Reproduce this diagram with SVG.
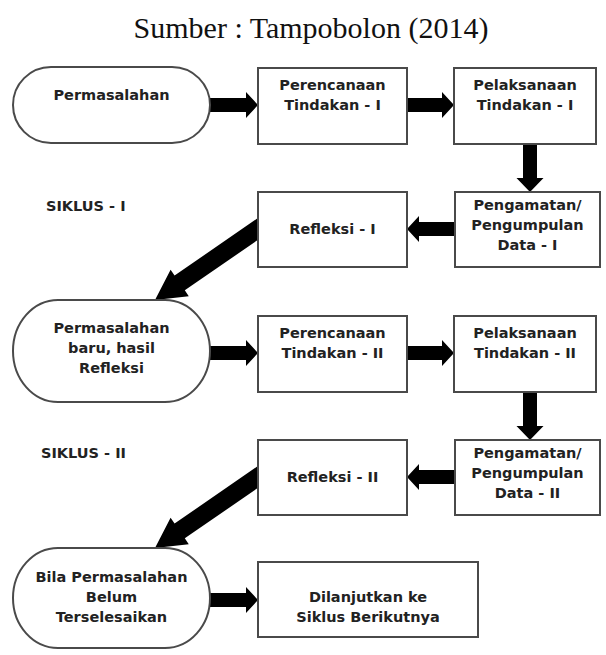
<svg xmlns="http://www.w3.org/2000/svg" width="606" height="655" viewBox="0 0 606 655">
<style>
.bg{fill:#ffffff}
.box{fill:#ffffff;stroke:#4a4a4a;stroke-width:2}
.t{font-family:"DejaVu Sans","Verdana",sans-serif;font-weight:bold;font-size:14.5px;fill:#222;text-anchor:middle}
.s{font-family:"DejaVu Sans","Verdana",sans-serif;font-weight:bold;font-size:14.5px;fill:#222}
.title{font-family:"Liberation Serif","Times New Roman",serif;font-size:30px;fill:#111;text-anchor:middle}
.arr{fill:#000}
</style>
<rect class="bg" x="0" y="0" width="606" height="655"/>
<text class="title" x="311" y="38">Sumber : Tampobolon (2014)</text>
<text class="s" x="46" y="211">SIKLUS - I</text>
<text class="s" x="41" y="458">SIKLUS - II</text>

<g id="connectors">
  <polygon class="arr" points="207,98 246,98 246,92 258,105 246,118 246,112 207,112"/>
  <polygon class="arr" points="406,98 442,98 442,92 454,105 442,118 442,112 406,112"/>
  <polygon class="arr" points="523,143 523,178 516.5,178 530,192 543.5,178 537,178 537,143"/>
  <polygon class="arr" points="456,222 419,222 419,216 407,229 419,242 419,236 456,236"/>
  <polygon class="arr" points="262.89,214.59 174.58,275.55 170.60,269.79 155,300 188.78,296.14 184.80,290.37 273.11,229.41"/>
  <polygon class="arr" points="207,346 246,346 246,340 258,353 246,366 246,360 207,360"/>
  <polygon class="arr" points="406,346 442,346 442,340 454,353 442,366 442,360 406,360"/>
  <polygon class="arr" points="523,391 523,426 516.5,426 530,440 543.5,426 537,426 537,391"/>
  <polygon class="arr" points="456,470 419,470 419,464 407,477 419,490 419,484 456,484"/>
  <polygon class="arr" transform="translate(0,248)" points="262.89,214.59 174.58,275.55 170.60,269.79 155,300 188.78,296.14 184.80,290.37 273.11,229.41"/>
  <polygon class="arr" points="207,593 246,593 246,587 258,600 246,613 246,607 207,607"/>
</g>

<g id="n-permasalahan">
  <rect class="box" x="13" y="67" width="197" height="76" rx="38" ry="38"/>
  <text class="t" x="111.5" y="100">Permasalahan</text>
</g>
<g id="n-perencanaan1">
  <rect class="box" x="258" y="68" width="149" height="76"/>
  <text class="t" x="332.5" y="90">Perencanaan</text>
  <text class="t" x="332.5" y="110">Tindakan - I</text>
</g>
<g id="n-pelaksanaan1">
  <rect class="box" x="454" y="68" width="142" height="76"/>
  <text class="t" x="525" y="90">Pelaksanaan</text>
  <text class="t" x="525" y="110">Tindakan - I</text>
</g>
<g id="n-pengamatan1">
  <rect class="box" x="455" y="192" width="145" height="75"/>
  <text class="t" x="527.5" y="210">Pengamatan/</text>
  <text class="t" x="527.5" y="230">Pengumpulan</text>
  <text class="t" x="527.5" y="250">Data - I</text>
</g>
<g id="n-refleksi1">
  <rect class="box" x="258" y="192" width="149" height="75"/>
  <text class="t" x="332.5" y="234">Refleksi - I</text>
</g>
<g id="n-permasalahan2">
  <rect class="box" x="13" y="300" width="197" height="102" rx="45" ry="51"/>
  <text class="t" x="111.5" y="333">Permasalahan</text>
  <text class="t" x="111.5" y="353">baru, hasil</text>
  <text class="t" x="111.5" y="373">Refleksi</text>
</g>
<g id="n-perencanaan2">
  <rect class="box" x="258" y="316" width="149" height="76"/>
  <text class="t" x="332.5" y="338">Perencanaan</text>
  <text class="t" x="332.5" y="358">Tindakan - II</text>
</g>
<g id="n-pelaksanaan2">
  <rect class="box" x="454" y="316" width="142" height="76"/>
  <text class="t" x="525" y="338">Pelaksanaan</text>
  <text class="t" x="525" y="358">Tindakan - II</text>
</g>
<g id="n-pengamatan2">
  <rect class="box" x="455" y="440" width="145" height="75"/>
  <text class="t" x="527.5" y="458">Pengamatan/</text>
  <text class="t" x="527.5" y="478">Pengumpulan</text>
  <text class="t" x="527.5" y="498">Data - II</text>
</g>
<g id="n-refleksi2">
  <rect class="box" x="258" y="440" width="149" height="75"/>
  <text class="t" x="332.5" y="482">Refleksi - II</text>
</g>
<g id="n-bila">
  <rect class="box" x="13" y="548" width="197" height="100" rx="45" ry="50"/>
  <text class="t" x="111.5" y="582">Bila Permasalahan</text>
  <text class="t" x="111.5" y="602">Belum</text>
  <text class="t" x="111.5" y="622">Terselesaikan</text>
</g>
<g id="n-dilanjutkan">
  <rect class="box" x="258" y="562" width="220" height="75"/>
  <text class="t" x="368" y="602">Dilanjutkan ke</text>
  <text class="t" x="368" y="622">Siklus Berikutnya</text>
</g>
</svg>
